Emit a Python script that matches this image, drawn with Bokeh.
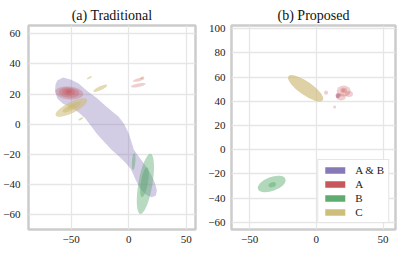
from bokeh.plotting import figure
from bokeh.layouts import row
from bokeh.models import Range1d, FixedTicker, Legend, LegendItem
from bokeh.embed import file_html
from bokeh.resources import INLINE

FONT = "Liberation Serif"
PURPLE, RED, GREEN, GOLD = "#8172b3", "#c44e52", "#55a868", "#ccb974"

# ---------------- data: (a) Traditional ----------------
# A & B region outline (data units)
ab_x = [-62, -57, -50, -43.5, -36, -28, -20, -13, -8.7, -4, 0, 2.5, 4.5, 8.7, 14, 19, 22.5, 24.5, 23.5, 20,
        15, 10, 6, 2, -3, -9, -14.5, -21, -27.5, -33, -38, -44, -50, -57, -62, -64, -63.5]
ab_y = [29, 31, 29.5, 27, 22, 17.5, 12, 7.5, 4.9, 0, -6, -12, -17, -21.5, -27, -33, -38.5, -44, -47.5, -48.5,
        -47, -43, -37, -30, -25.5, -21, -17.3, -12, -6.5, -1, 4, 8, 11, 13.5, 17, 22, 26.5]

# A (red) density levels
a_x = [-51.6, -51.8, -52.0, -52.2, -52.2, 8.7, 8.3]
a_y = [20.7, 21.0, 21.3, 21.5, 21.5, 29.5, 25.8]
a_w = [24.3, 18.0, 11.5, 6.0, 3.0, 10.4, 13.0]
a_h = [8.6, 6.8, 5.0, 3.2, 1.8, 2.0, 2.3]
a_ang = [-0.08, -0.08, -0.08, -0.08, -0.08, 0.26, 0.2]

# B (green)
b_x = [14.5, 13.7, 4.3]
b_y = [-39.7, -38.5, -24.9]
b_w = [12.2, 6.1, 3.0]
b_h = [40.5, 20.0, 11.3]
b_ang = [-0.17, -0.17, -0.08]

# C (gold)
c_x = [-49.8, -49.5, -50.0, -24.6, -34.2, -41.6, 11.6]
c_y = [11.0, 11.3, 11.5, 23.8, 30.8, 3.5, 30.8]
c_w = [30.4, 17.4, 7.0, 13.0, 4.8, 4.8, 3.5]
c_h = [7.3, 4.0, 2.0, 2.7, 1.3, 1.3, 1.3]
c_ang = [0.47, 0.47, 0.47, 0.44, 0.5, 0.5, 0.5]

# ---------------- data: (b) Proposed ----------------
pab_x, pab_y, pab_w, pab_h = [16.0], [44.5], [3.0], [4.0]

pa_x = [20.5, 24.5, 18.5, 16.5, 7.3, 13.7, 20.5, 20.3]
pa_y = [48.5, 46.0, 43.5, 45.0, 47.1, 35.3, 49.0, 49.0]
pa_w = [10.5, 6.0, 7.0, 4.0, 3.0, 2.2, 5.0, 2.5]
pa_h = [9.0, 5.0, 5.5, 4.0, 3.5, 2.5, 4.5, 2.5]

pb_x = [-33.4, -33.0]
pb_y = [-28.4, -29.0]
pb_w = [21.9, 5.8]
pb_h = [11.6, 4.1]
pb_ang = [0.35, 0.35]

pc_x, pc_y, pc_w, pc_h, pc_ang = [-8.0], [50.8], [31.4], [11.1], [-0.61]

x_ticks = [-50, 0, 50]
y_ticks_a = [-60, -40, -20, 0, 20, 40, 60]
y_ticks_b = [-60, -40, -20, 0, 20, 40, 60, 80, 100]
legend_labels = ["A & B", "A", "B", "C"]
legend_colors = [PURPLE, RED, GREEN, GOLD]
NAN = float("nan")


def minus(ticks):
    return {t: (("\u2212" + str(-t)) if t < 0 else str(t)) for t in ticks}


def make_fig(title, xr, yr, yt, w, bl, br, ystand):
    p = figure(width=w, height=255, x_range=Range1d(*xr), y_range=Range1d(*yr),
               output_backend="svg", toolbar_location=None,
               min_border_left=bl, min_border_right=br, min_border_top=25, min_border_bottom=26)
    p.title.text = title
    p.title.align = "center"
    p.title.text_font = FONT
    p.title.text_font_style = "normal"
    p.title.text_font_size = "14px"
    p.title.text_color = "#111111"
    p.title.standoff = 5
    p.outline_line_color = "#cccccc"
    p.outline_line_width = 2.5
    p.background_fill_color = "white"
    p.border_fill_color = "white"
    for ax, ticks in ((p.xaxis, x_ticks), (p.yaxis, yt)):
        ax.ticker = FixedTicker(ticks=ticks)
        ax.major_label_overrides = minus(ticks)
        ax.axis_line_color = None
        ax.major_tick_line_color = None
        ax.minor_tick_line_color = None
        ax.major_tick_out = 0
        ax.major_tick_in = 0
        ax.minor_tick_out = 0
        ax.minor_tick_in = 0
        ax.major_label_text_font = FONT
        ax.major_label_text_font_size = "11px"
        ax.major_label_text_color = "#222222"
    p.xaxis.major_label_standoff = 6
    p.yaxis.major_label_standoff = ystand
    p.xgrid.ticker = FixedTicker(ticks=x_ticks)
    p.ygrid.ticker = FixedTicker(ticks=yt)
    p.grid.grid_line_color = "#e6e6e6"
    p.grid.grid_line_width = 1.3
    return p


# (a)
p1 = make_fig("(a) Traditional", (-87, 58), (-70, 65.5), y_ticks_a, 205, 28, 10, 8)
p1.patch(ab_x, ab_y, fill_color=PURPLE, fill_alpha=0.36, line_color=None)
p1.ellipse(x=c_x, y=c_y, width=c_w, height=c_h, angle=c_ang,
           fill_color=GOLD, fill_alpha=0.55, line_color=None)
p1.ellipse(x=a_x, y=a_y, width=a_w, height=a_h, angle=a_ang,
           fill_color=RED, fill_alpha=0.28, line_color=None)
p1.ellipse(x=b_x, y=b_y, width=b_w, height=b_h, angle=b_ang,
           fill_color=GREEN, fill_alpha=0.42, line_color=None)

# (b)
p2 = make_fig("(b) Proposed", (-63.5, 59.3), (-66, 102.7), y_ticks_b, 202, 22, 12, 6)
p2.ellipse(x=pab_x, y=pab_y, width=pab_w, height=pab_h,
           fill_color=PURPLE, fill_alpha=0.45, line_color=None)
p2.ellipse(x=pc_x, y=pc_y, width=pc_w, height=pc_h, angle=pc_ang,
           fill_color=GOLD, fill_alpha=0.65, line_color=None)
p2.ellipse(x=pb_x, y=pb_y, width=pb_w, height=pb_h, angle=pb_ang,
           fill_color=GREEN, fill_alpha=0.45, line_color=None)
p2.ellipse(x=pa_x, y=pa_y, width=pa_w, height=pa_h,
           fill_color=RED, fill_alpha=0.28, line_color=None)

items = []
for lab, col in zip(legend_labels, legend_colors):
    r = p2.quad(left=[NAN], right=[NAN], top=[NAN], bottom=[NAN],
                fill_color=col, fill_alpha=0.95, line_color=None)
    items.append(LegendItem(label=lab, renderers=[r]))
leg = Legend(items=items, location="bottom_right")
leg.label_text_font = FONT
leg.label_text_font_size = "11px"
leg.label_text_color = "#222222"
leg.glyph_width = 25
leg.glyph_height = 8
leg.label_standoff = 8
leg.padding = 4
leg.spacing = 2
leg.margin = 6
leg.border_line_color = "#cccccc"
leg.border_line_width = 1.5
leg.background_fill_alpha = 1.0
p2.add_layout(leg)

layout = row(p1, p2)
open("out.html", "w").write(file_html(layout, INLINE))
